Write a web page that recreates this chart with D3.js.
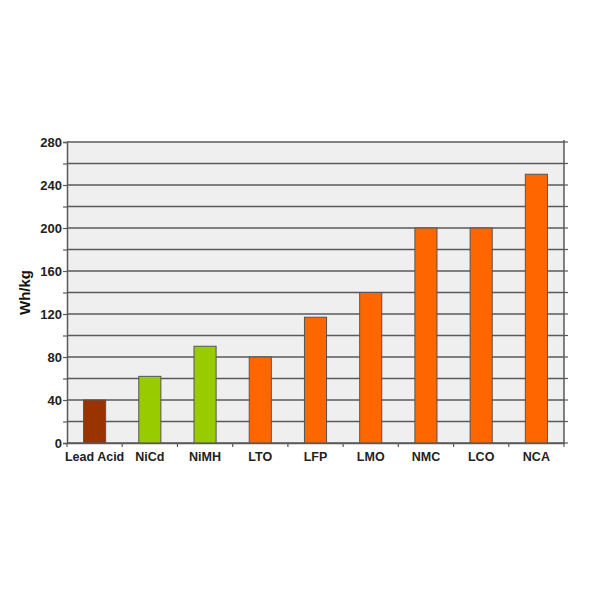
<!DOCTYPE html>
<html><head><meta charset="utf-8">
<script src="https://cdn.jsdelivr.net/npm/d3@7"></script>
<style>body{margin:0;background:#fff}</style>
</head><body>
<svg id="c" width="600" height="600"></svg>
<script>
const categories = ["Lead Acid","NiCd","NiMH","LTO","LFP","LMO","NMC","LCO","NCA"];
const values = [40, 62, 90, 80, 117, 140, 200, 200, 250];
const barColors = ["#993300","#99cc00","#99cc00","#ff6600","#ff6600","#ff6600","#ff6600","#ff6600","#ff6600"];
const yTicks = [0,40,80,120,160,200,240,280];
const gridValues = d3.range(0, 281, 20);

const svg = d3.select("#c");
const m = {left:67, right:36, top:142, bottom:157};
const W = 600 - m.left - m.right, H = 600 - m.top - m.bottom;
const g = svg.append("g").attr("transform",`translate(${m.left},${m.top})`);
const x = d3.scaleBand().domain(categories).range([0,W]).paddingInner(0.6).paddingOuter(0.3);
const y = d3.scaleLinear().domain([0,280]).range([H,0]);
const font = "'Liberation Sans', Arial, sans-serif";

g.append("rect").attr("width",W).attr("height",H).attr("fill","#efefef");
g.selectAll("line.grid").data(gridValues).join("line").attr("class","grid")
  .attr("x1",0).attr("x2",W).attr("y1",d=>y(d)).attr("y2",d=>y(d))
  .attr("stroke","#5a5a5a").attr("stroke-width",1.6);
g.append("line").attr("x1",W).attr("x2",W).attr("y1",-2).attr("y2",H).attr("stroke","#5a5a5a").attr("stroke-width",1.5);
g.selectAll("line.rt").data(gridValues).join("line").attr("class","rt")
  .attr("x1",W).attr("x2",W+4).attr("y1",d=>y(d)).attr("y2",d=>y(d)).attr("stroke","#5a5a5a").attr("stroke-width",1.2);

g.selectAll("rect.bar").data(values).join("rect").attr("class","bar")
  .attr("x",(d,i)=>x(categories[i])).attr("width",x.bandwidth())
  .attr("y",d=>y(d)).attr("height",d=>H-y(d))
  .attr("fill",(d,i)=>barColors[i]).attr("stroke","#555").attr("stroke-width",1);

const ya = g.append("g").call(d3.axisLeft(y).tickValues(gridValues).tickSize(4).tickFormat(d=>yTicks.includes(d)?d:""));
ya.select(".domain").attr("stroke","#5a5a5a").attr("stroke-width",1.5);
ya.selectAll(".tick line").attr("stroke","#5a5a5a").attr("stroke-width",1.2);
ya.selectAll("text").attr("font-family",font).attr("font-weight","bold").attr("font-size",13).attr("fill","#222").attr("x",-5);

const xa = g.append("g").attr("transform",`translate(0,${H})`).call(d3.axisBottom(x).tickSize(0).tickPadding(9));
xa.select(".domain").attr("stroke","#5a5a5a").attr("stroke-width",1.5);
xa.selectAll("text").attr("font-family",font).attr("font-weight","bold").attr("font-size",12.5).attr("fill","#222");
const step = W/categories.length;
g.selectAll("line.bt").data(d3.range(0,categories.length+1)).join("line").attr("class","bt")
  .attr("x1",d=>d*step).attr("x2",d=>d*step).attr("y1",H).attr("y2",H+4).attr("stroke","#5a5a5a").attr("stroke-width",1.2);

svg.append("text").attr("transform",`translate(30,${m.top+H/2}) rotate(-90)`)
  .attr("text-anchor","middle").attr("font-family",font).attr("font-weight","bold").attr("font-size",15).attr("fill","#111").text("Wh/kg");
</script>
</body></html>
